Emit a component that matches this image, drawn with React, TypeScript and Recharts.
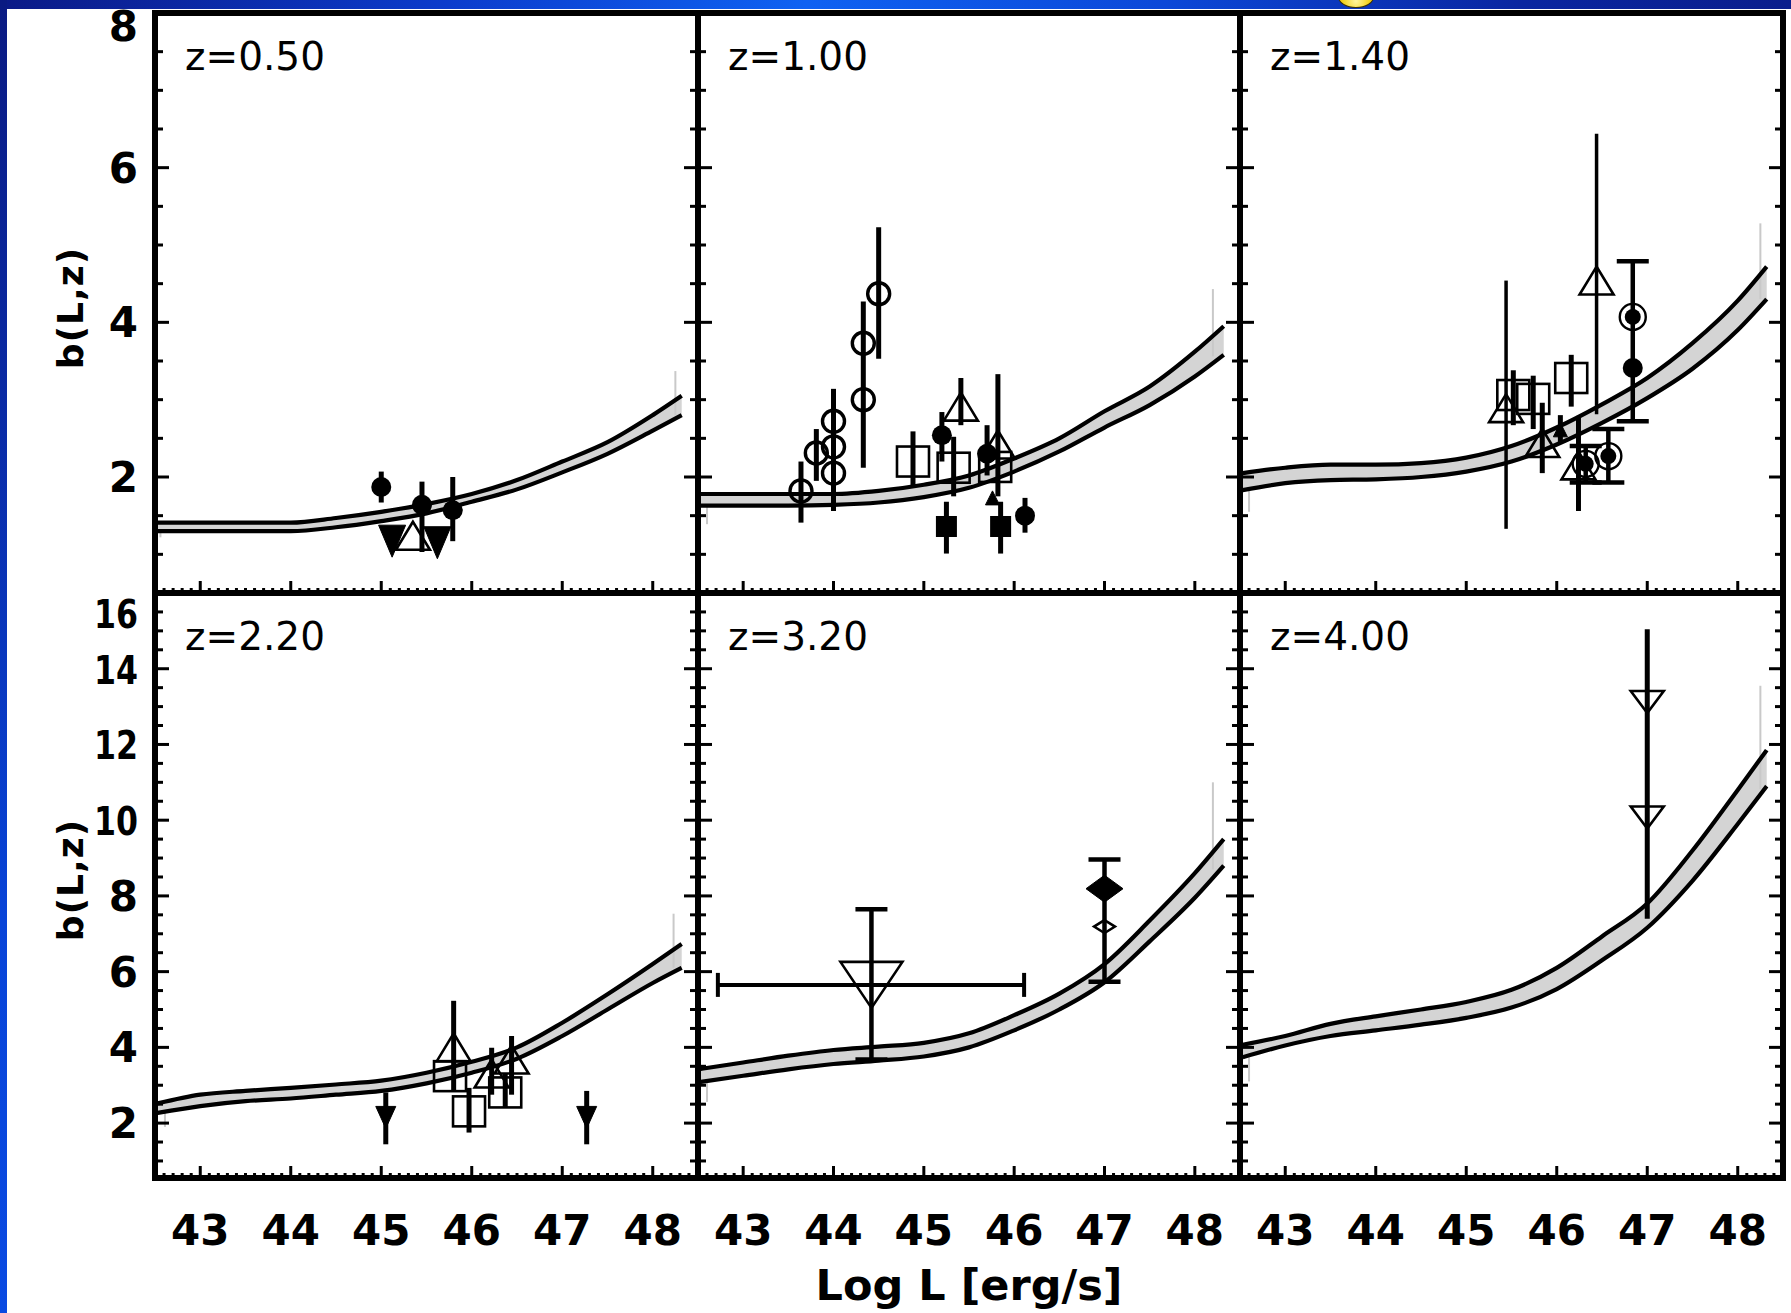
import React from "react";
import { ComposedChart, Line, Area, Scatter, ErrorBar, XAxis, YAxis, ReferenceLine } from "recharts";

const FONT = "'DejaVu Sans', 'Liberation Sans', sans-serif";
const INK = "#000";
const BAND = "#d4d4d4";

// log L grid the model band is read at
const logL = [42.53, 43.0, 43.5, 44.0, 44.5, 45.0, 45.5, 46.0, 46.5, 47.0, 47.5, 48.0, 48.32];

const upperZ050 = [1.41, 1.41, 1.41, 1.41, 1.47, 1.55, 1.65, 1.78, 1.96, 2.2, 2.45, 2.8, 3.05];
const lowerZ050 = [1.3, 1.3, 1.3, 1.3, 1.35, 1.43, 1.53, 1.68, 1.84, 2.06, 2.3, 2.6, 2.8];
const upperZ100 = [1.78, 1.78, 1.78, 1.78, 1.82, 1.9, 2.02, 2.24, 2.5, 2.85, 3.17, 3.62, 3.95];
const lowerZ100 = [1.63, 1.63, 1.63, 1.64, 1.67, 1.74, 1.86, 2.07, 2.33, 2.64, 2.93, 3.3, 3.58];
const upperZ140 = [2.05, 2.12, 2.16, 2.16, 2.18, 2.25, 2.4, 2.64, 2.94, 3.28, 3.73, 4.28, 4.72];
const lowerZ140 = [1.83, 1.92, 1.96, 1.97, 2.0, 2.07, 2.2, 2.42, 2.7, 3.02, 3.4, 3.9, 4.3];
const upperZ220 = [2.52, 2.75, 2.85, 2.93, 3.02, 3.12, 3.33, 3.62, 4.0, 4.65, 5.4, 6.2, 6.73];
const lowerZ220 = [2.27, 2.45, 2.58, 2.65, 2.75, 2.85, 3.05, 3.33, 3.7, 4.3, 5.0, 5.7, 6.1];
const upperZ320 = [3.43, 3.6, 3.78, 3.93, 4.02, 4.12, 4.37, 4.85, 5.42, 6.2, 7.35, 8.6, 9.5];
const lowerZ320 = [3.09, 3.25, 3.42, 3.56, 3.65, 3.76, 4.0, 4.45, 5.0, 5.72, 6.8, 7.95, 8.8];
const upperZ400 = [4.07, 4.3, 4.62, 4.82, 5.0, 5.2, 5.52, 6.1, 6.93, 7.8, 9.2, 10.8, 11.85];
const lowerZ400 = [3.74, 4.05, 4.3, 4.45, 4.6, 4.78, 5.05, 5.54, 6.3, 7.16, 8.4, 9.9, 10.9];

// faint grey edges left at both ends of the band
const edgesZ050 = [{ L: 48.25, lo: 2.8, hi: 3.37 }, { L: 42.56, lo: 1.22, hi: 1.3 }];
const edgesZ100 = [{ L: 48.2, lo: 3.56, hi: 4.43 }, { L: 42.6, lo: 1.39, hi: 1.63 }];
const edgesZ140 = [{ L: 48.25, lo: 4.3, hi: 5.28 }, { L: 42.6, lo: 1.55, hi: 1.83 }];
const edgesZ220 = [{ L: 48.23, lo: 6.1, hi: 7.53 }, { L: 42.61, lo: 1.9, hi: 2.27 }];
const edgesZ320 = [{ L: 48.2, lo: 8.7, hi: 11.0 }, { L: 42.6, lo: 2.56, hi: 3.06 }];
const edgesZ400 = [{ L: 48.25, lo: 10.82, hi: 13.55 }, { L: 42.6, lo: 3.1, hi: 3.74 }];

type Pt = { L: number; b: number; lo?: number; hi?: number; xlo?: number; xhi?: number; kind: string; eb?: string };

// kind: fc filled circle, oc open circle, os open square, fs filled square, ot/ft open/filled triangle up,
// fd/od filled/open triangle down, big large open triangle down, arrow upper limit, cd circle+dot, dia/odia diamonds
// eb: b thick bar, t thin bar, c capped bar, h capped bar + x error
const pointsZ050: Pt[] = [
  { L: 45.0, b: 1.87, lo: 1.67, hi: 2.07, kind: "fc" },
  { L: 45.45, b: 1.64, lo: 1.03, hi: 1.94, kind: "fc" },
  { L: 45.79, b: 1.57, lo: 1.17, hi: 2.0, kind: "fc" },
  { L: 45.12, b: 1.17, kind: "fd" },
  { L: 45.62, b: 1.15, kind: "fd" },
  { L: 45.35, b: 1.24, kind: "ot" },
];

const pointsZ100: Pt[] = [
  { L: 43.64, b: 1.82, lo: 1.41, hi: 2.2, kind: "oc" },
  { L: 43.81, b: 2.31, lo: 1.95, hi: 2.62, kind: "oc" },
  { L: 44.0, b: 2.72, lo: 1.56, hi: 3.14, kind: "oc" },
  { L: 44.0, b: 2.39, kind: "oc" },
  { L: 44.0, b: 2.05, kind: "oc" },
  { L: 44.33, b: 3.73, lo: 2.12, hi: 4.27, kind: "oc" },
  { L: 44.33, b: 3.0, kind: "oc" },
  { L: 44.5, b: 4.37, lo: 3.53, hi: 5.23, kind: "oc" },
  { L: 44.88, b: 2.2, lo: 1.88, hi: 2.59, kind: "os" },
  { L: 45.33, b: 2.12, lo: 1.75, hi: 2.52, kind: "os" },
  { L: 45.79, b: 2.13, kind: "os" },
  { L: 45.2, b: 2.54, lo: 2.2, hi: 2.84, kind: "fc" },
  { L: 45.41, b: 2.91, lo: 2.67, hi: 3.28, kind: "ot" },
  { L: 45.82, b: 2.42, lo: 1.75, hi: 3.33, kind: "ot" },
  { L: 45.7, b: 2.3, lo: 2.02, hi: 2.67, kind: "fc" },
  { L: 45.76, b: 1.73, kind: "ft" },
  { L: 45.25, b: 1.36, lo: 1.01, hi: 1.68, kind: "fs" },
  { L: 45.85, b: 1.36, lo: 1.01, hi: 1.68, kind: "fs" },
  { L: 46.12, b: 1.5, lo: 1.28, hi: 1.73, kind: "fc" },
];

const pointsZ140: Pt[] = [
  { L: 45.44, b: 2.89, lo: 1.33, hi: 4.54, kind: "ot", eb: "t" },
  { L: 45.52, b: 3.06, lo: 2.67, hi: 3.38, kind: "os" },
  { L: 45.74, b: 3.01, lo: 2.62, hi: 3.31, kind: "os" },
  { L: 46.16, b: 3.28, lo: 2.91, hi: 3.58, kind: "os" },
  { L: 45.84, b: 2.44, lo: 2.05, hi: 2.96, kind: "ot" },
  { L: 46.04, b: 2.61, lo: 2.45, hi: 2.8, kind: "ft" },
  { L: 46.24, b: 2.15, lo: 1.56, hi: 2.79, kind: "ot" },
  { L: 46.32, b: 2.17, lo: 1.93, hi: 2.4, kind: "cd", eb: "c" },
  { L: 46.57, b: 2.27, lo: 1.93, hi: 2.62, kind: "cd", eb: "c" },
  { L: 46.44, b: 4.54, lo: 2.81, hi: 6.44, kind: "ot", eb: "t" },
  { L: 46.84, b: 4.07, lo: 2.72, hi: 4.79, kind: "cd", eb: "c" },
  { L: 46.84, b: 3.41, kind: "fc" },
];

const pointsZ220: Pt[] = [
  { L: 45.05, b: 2.15, lo: 1.44, hi: 2.81, kind: "arrow" },
  { L: 47.27, b: 2.15, lo: 1.44, hi: 2.85, kind: "arrow" },
  { L: 45.8, b: 4.0, lo: 2.87, hi: 5.23, kind: "ot" },
  { L: 45.76, b: 3.24, kind: "os" },
  { L: 45.97, b: 2.31, lo: 1.75, hi: 2.93, kind: "os" },
  { L: 46.22, b: 3.31, lo: 2.75, hi: 3.99, kind: "ot" },
  { L: 46.44, b: 3.68, lo: 2.75, hi: 4.3, kind: "ot" },
  { L: 46.37, b: 2.81, lo: 2.4, hi: 3.3, kind: "os" },
];

const pointsZ320: Pt[] = [
  { L: 44.42, b: 5.65, lo: 3.68, hi: 7.65, xlo: 42.72, xhi: 46.11, kind: "big", eb: "h" },
  { L: 47.0, b: 8.19, lo: 5.73, hi: 8.96, kind: "dia", eb: "c" },
  { L: 47.0, b: 7.19, kind: "odia" },
];

const pointsZ400: Pt[] = [
  { L: 47.0, b: 13.12, lo: 7.4, hi: 15.04, kind: "od" },
  { L: 47.0, b: 10.07, kind: "od" },
];

const redshiftLabels = ["z=0.50", "z=1.00", "z=1.40", "z=2.20", "z=3.20", "z=4.00"];

const xMajor = [43, 44, 45, 46, 47, 48];
const yMajorTop = [2, 4, 6, 8];
const yMajorBottom = [2, 4, 6, 8, 10, 12, 14, 16];

const steps = (from: number, to: number, step: number) => {
  const out: number[] = [];
  for (let v = from; v <= to + 1e-9; v += step) out.push(Math.round(v * 100) / 100);
  return out;
};

const xTicks = steps(42.5, 48.5, 0.1);
const yTicksTop = steps(0.5, 8, 0.5);
const yTicksBottom = steps(1, 16, 0.5);

// frame edges in page pixels
const FRAME_X = [155, 698, 1240, 1783];
const FRAME_Y = [13, 593, 1178];

const band = (upper: number[], lower: number[]) =>
  logL.map((L, i) => ({ L, hi: upper[i], lo: lower[i], range: [lower[i], upper[i]] }));

const panels = [
  { rows: band(upperZ050, lowerZ050), pts: pointsZ050, edges: edgesZ050 },
  { rows: band(upperZ100, lowerZ100), pts: pointsZ100, edges: edgesZ100 },
  { rows: band(upperZ140, lowerZ140), pts: pointsZ140, edges: edgesZ140 },
  { rows: band(upperZ220, lowerZ220), pts: pointsZ220, edges: edgesZ220 },
  { rows: band(upperZ320, lowerZ320), pts: pointsZ320, edges: edgesZ320 },
  { rows: band(upperZ400, lowerZ400), pts: pointsZ400, edges: edgesZ400 },
];

const errY = (d: Pt) => [d.b - (d.lo ?? d.b), (d.hi ?? d.b) - d.b];
const errX = (d: Pt) => [d.L - (d.xlo ?? d.L), (d.xhi ?? d.L) - d.L];

const barStyles = [
  { eb: "b", cap: 0, sw: 5 },
  { eb: "t", cap: 0, sw: 3.5 },
  { eb: "c", cap: 16, sw: 4.5 },
  { eb: "h", cap: 16, sw: 4.5 },
];

const tri = (cx: number, cy: number, w: number, h: number, up: boolean, filled: boolean) => {
  const tipY = up ? cy - h / 2 : cy + h / 2;
  const baseY = up ? cy + h / 2 : cy - h / 2;
  return (
    <polygon
      points={`${cx},${tipY} ${cx - w / 2},${baseY} ${cx + w / 2},${baseY}`}
      fill={filled ? INK : "none"}
      stroke={INK}
      strokeWidth={filled ? 1 : 2.6}
      strokeLinejoin="miter"
    />
  );
};

const diamond = (cx: number, cy: number, w: number, h: number, filled: boolean) => (
  <polygon
    points={`${cx},${cy - h / 2} ${cx + w / 2},${cy} ${cx},${cy + h / 2} ${cx - w / 2},${cy}`}
    fill={filled ? INK : "none"}
    stroke={INK}
    strokeWidth={filled ? 1 : 2.5}
  />
);

function Marker(p: any) {
  const { cx, cy, payload } = p;
  if (cx == null || cy == null) return <g />;
  switch (payload.kind) {
    case "fc":
      return <circle cx={cx} cy={cy} r={10} fill={INK} />;
    case "oc":
      return <circle cx={cx} cy={cy} r={11} fill="none" stroke={INK} strokeWidth={3.4} />;
    case "os":
      return <rect x={cx - 16} y={cy - 15} width={32} height={30} fill="none" stroke={INK} strokeWidth={2.6} />;
    case "fs":
      return <rect x={cx - 10.5} y={cy - 10.5} width={21} height={21} fill={INK} />;
    case "ot":
      return tri(cx, cy, 34, 28, true, false);
    case "ft":
      return tri(cx, cy, 14, 14, true, true);
    case "fd":
      return tri(cx, cy, 27, 32, false, true);
    case "od":
      return tri(cx, cy, 33, 22, false, false);
    case "big":
      return tri(cx, cy, 62, 46, false, false);
    case "arrow":
      return tri(cx, cy, 20, 22, false, true);
    case "cd":
      return (
        <g>
          <circle cx={cx} cy={cy} r={13} fill="none" stroke={INK} strokeWidth={2.4} />
          <circle cx={cx} cy={cy} r={8} fill={INK} />
        </g>
      );
    case "dia":
      return diamond(cx, cy, 37, 27, true);
    case "odia":
      return diamond(cx, cy, 21, 13, false);
    default:
      return <g />;
  }
}

const makeXTick = (side: "top" | "bottom", labels: boolean) => (p: any) => {
  const v = p.payload.value;
  const major = xMajor.includes(v);
  const d = side === "bottom" ? -1 : 1;
  return (
    <g>
      <line x1={p.x} x2={p.x} y1={p.y} y2={p.y + d * (major ? 12 : 5)} stroke={INK} strokeWidth={3} />
      {labels && major && (
        <text x={p.x} y={p.y + 67} textAnchor="middle" fontFamily={FONT} fontWeight="bold" fontSize={42} fill={INK}>
          {v}
        </text>
      )}
    </g>
  );
};

const makeYTick = (side: "left" | "right", majors: number[], labels: boolean, topClamp: number) => (p: any) => {
  const v = p.payload.value;
  const major = majors.includes(v);
  const d = side === "left" ? 1 : -1;
  const cy = Math.max(p.y, topClamp);
  const twoDigit = String(v).length > 1;
  return (
    <g>
      <line x1={p.x} x2={p.x + d * (major ? 14 : 8)} y1={p.y} y2={p.y} stroke={INK} strokeWidth={3} />
      {labels && major && (
        <text
          x={p.x - 17}
          y={cy + 15}
          textAnchor="end"
          fontFamily={FONT}
          fontWeight="bold"
          fontSize={twoDigit ? 39 : 42}
          fill={INK}
          {...(twoDigit ? { textLength: 44, lengthAdjust: "spacingAndGlyphs" } : {})}
        >
          {v}
        </text>
      )}
    </g>
  );
};

const frameLine = { stroke: INK, strokeWidth: 6, strokeLinecap: "square" as const };
// axes get a 1px box (a zero-size axis is not drawn), taken back out of the margins
const AX = 1;

function Panel({ idx }: { idx: number }) {
  const col = idx % 3;
  const row = Math.floor(idx / 3);
  const cfg = panels[idx];
  const left = FRAME_X[col];
  const top = FRAME_Y[row];
  const pw = FRAME_X[col + 1] - left;
  const ph = FRAME_Y[row + 1] - top;
  const showY = col === 0;
  const showX = row === 1;
  const pad = { top: 10, right: 10, bottom: showX ? 90 : 10, left: showY ? left : 10 };
  const m = { top: pad.top - AX, right: pad.right - AX, bottom: pad.bottom - AX, left: pad.left - AX };
  const yDomain = row === 0 ? [0.5, 8] : [0.55, 16];
  const yTicks = row === 0 ? yTicksTop : yTicksBottom;
  const yMajor = row === 0 ? yMajorTop : yMajorBottom;
  const clamp = pad.top + (row === 0 ? 13 : 20);

  return (
    <div style={{ position: "absolute", left: left - pad.left, top: top - pad.top }}>
      <ComposedChart width={pw + pad.left + pad.right} height={ph + pad.top + pad.bottom} margin={m} data={cfg.rows}>
        <XAxis
          xAxisId="b"
          type="number"
          dataKey="L"
          domain={[42.5, 48.5]}
          allowDataOverflow
          ticks={xTicks}
          interval={0}
          height={AX}
          tickSize={0}
          tickMargin={0}
          tickLine={false}
          axisLine={frameLine}
          tick={makeXTick("bottom", showX)}
        />
        <XAxis
          xAxisId="t"
          orientation="top"
          type="number"
          domain={[42.5, 48.5]}
          allowDataOverflow
          ticks={xTicks}
          interval={0}
          height={AX}
          tickSize={0}
          tickMargin={0}
          tickLine={false}
          axisLine={frameLine}
          tick={makeXTick("top", false)}
        />
        <YAxis
          yAxisId="l"
          type="number"
          domain={yDomain}
          allowDataOverflow
          ticks={yTicks}
          interval={0}
          width={AX}
          tickSize={0}
          tickMargin={0}
          tickLine={false}
          axisLine={frameLine}
          tick={makeYTick("left", yMajor, showY, clamp)}
        />
        <YAxis
          yAxisId="r"
          orientation="right"
          type="number"
          domain={yDomain}
          allowDataOverflow
          ticks={yTicks}
          interval={0}
          width={AX}
          tickSize={0}
          tickMargin={0}
          tickLine={false}
          axisLine={frameLine}
          tick={makeYTick("right", yMajor, false, clamp)}
        />
        <Area
          xAxisId="b"
          yAxisId="l"
          type="monotone"
          dataKey="range"
          stroke="none"
          fill={BAND}
          fillOpacity={1}
          isAnimationActive={false}
        />
        {cfg.edges.map((e, i) => (
          <ReferenceLine
            key={i}
            xAxisId="b"
            yAxisId="l"
            segment={[{ x: e.L, y: e.lo }, { x: e.L, y: e.hi }]}
            stroke="#c9c9c9"
            strokeWidth={2}
          />
        ))}
        <Line xAxisId="b" yAxisId="l" type="monotone" dataKey="hi" stroke={INK} strokeWidth={4.2} dot={false} isAnimationActive={false} />
        <Line xAxisId="b" yAxisId="l" type="monotone" dataKey="lo" stroke={INK} strokeWidth={4.2} dot={false} isAnimationActive={false} />
        {barStyles.map((s) => {
          const pts = cfg.pts.filter((p) => (p.eb ?? "b") === s.eb);
          if (!pts.length) return null;
          return (
            <Scatter key={s.eb} xAxisId="b" yAxisId="l" data={pts} dataKey="b" shape={Marker} isAnimationActive={false}>
              <ErrorBar dataKey={errY} direction="y" width={s.cap} stroke={INK} strokeWidth={s.sw} />
              {s.eb === "h" && <ErrorBar dataKey={errX} direction="x" width={12} stroke={INK} strokeWidth={4} />}
            </Scatter>
          );
        })}
      </ComposedChart>
    </div>
  );
}

export default function App() {
  const midX = (FRAME_X[0] + FRAME_X[3]) / 2;
  return (
    <div style={{ position: "relative", width: 1791, height: 1313, background: "#fff", overflow: "hidden" }}>
      <style>{"body{margin:0}"}</style>
      <div
        style={{
          position: "absolute",
          left: 0,
          top: 0,
          width: 1791,
          height: 9,
          background: "linear-gradient(90deg, #0b1a86 0%, #0c3ccc 25%, #0f62f2 45%, #0c48d8 65%, #0a26a0 85%, #0b1e8c 100%)",
        }}
      />
      <div
        style={{
          position: "absolute",
          left: 0,
          top: 0,
          width: 7,
          height: 1313,
          background: "linear-gradient(180deg, #0a1a82 0%, #0a2aa4 30%, #0844d8 70%, #0a4ae2 100%)",
        }}
      />
      <div
        style={{
          position: "absolute",
          left: 1338,
          top: -14,
          width: 34,
          height: 20,
          borderRadius: "50%",
          background: "radial-gradient(circle at 50% 70%, #fff6a0 0%, #f3d21a 60%, #c9a000 100%)",
          border: "1.5px solid #3a3000",
        }}
      />
      {panels.map((_, i) => (
        <Panel key={i} idx={i} />
      ))}
      <svg width={1791} height={1313} style={{ position: "absolute", left: 0, top: 0, pointerEvents: "none" }}>
        {redshiftLabels.map((t, i) => (
          <text
            key={t}
            x={FRAME_X[i % 3] + 30}
            y={FRAME_Y[Math.floor(i / 3)] + 57}
            fontFamily={FONT}
            fontSize={39}
            fill={INK}
          >
            {t}
          </text>
        ))}
        {[0, 1].map((r) => (
          <text
            key={r}
            transform={`translate(83, ${r === 0 ? 308 : 880}) rotate(-90)`}
            textAnchor="middle"
            fontFamily={FONT}
            fontWeight="bold"
            fontSize={36}
            letterSpacing={1}
            fill={INK}
          >
            b(L,z)
          </text>
        ))}
        <text x={midX} y={1300} textAnchor="middle" fontFamily={FONT} fontWeight="bold" fontSize={43} fill={INK}>
          Log L [erg/s]
        </text>
      </svg>
    </div>
  );
}
